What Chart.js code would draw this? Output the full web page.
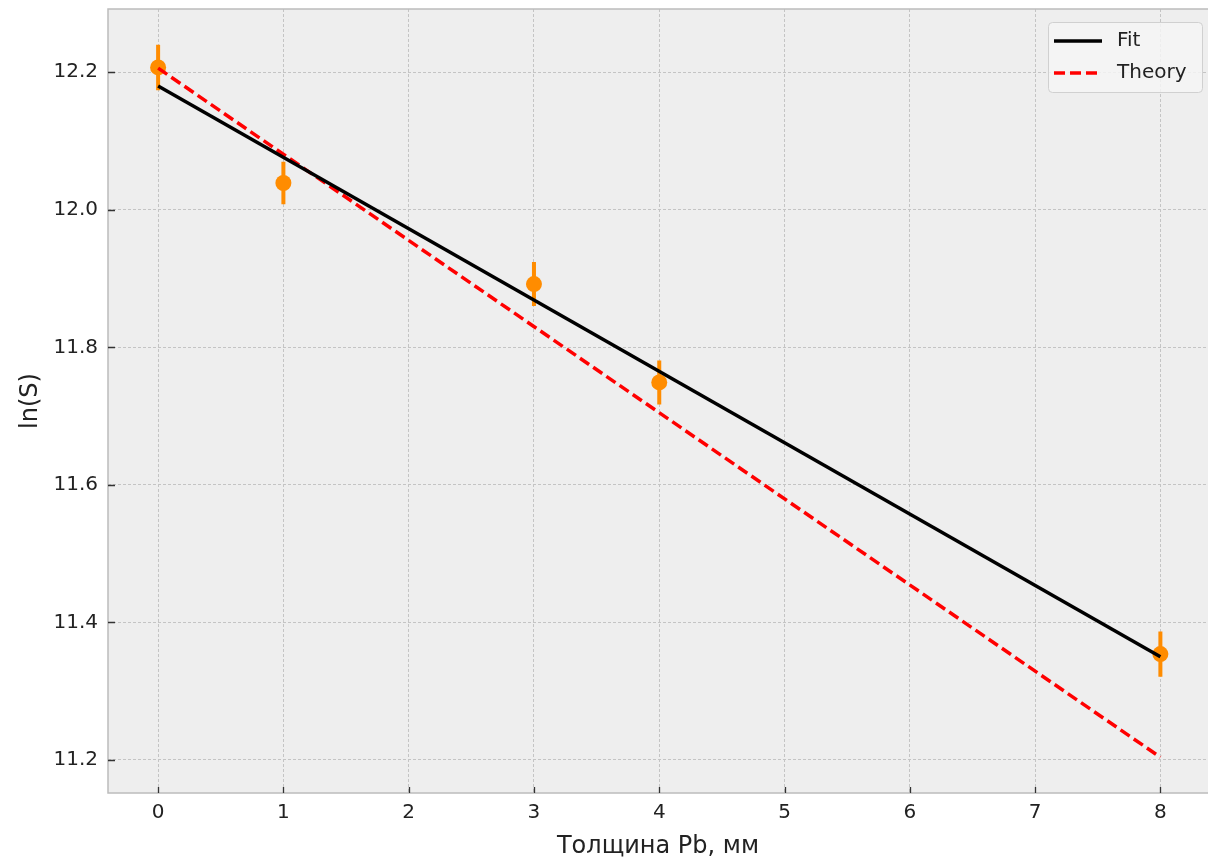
<!DOCTYPE html>
<html>
<head>
    <title>ln(S) от толщины Pb</title>
    <script src="https://cdn.jsdelivr.net/npm/chart.js"></script>
    <style>
        body { margin: 0; background: #ffffff; }
    </style>
</head>
<body>

    <canvas id="myChart" width="1208" height="861"></canvas>

    <script>
      // точки измерений
      const thickness = [0, 1, 3, 4, 8];
      const lnS = [12.207, 12.039, 11.892, 11.749, 11.354];
      const lnSErr = [0.033, 0.031, 0.032, 0.032, 0.033];
      // прямые
      const lineX = [0, 8];
      const fitY = [12.180, 11.350];
      const theoryY = [12.206, 11.204];
      // деления
      const xTicks = [0, 1, 2, 3, 4, 5, 6, 7, 8];
      const yTicks = [11.2, 11.4, 11.6, 11.8, 12.0, 12.2];

      const FONT = "'DejaVu Sans', sans-serif";
      const TEXT = '#222222';

      const errData = [];
      thickness.forEach((x, i) => {
          errData.push({x: x, y: lnS[i] - lnSErr[i]}, {x: x, y: lnS[i] + lnSErr[i]}, {x: x, y: null});
      });

      function noPad(s) {
          s.paddingLeft = 0; s.paddingRight = 0; s.paddingTop = 0; s.paddingBottom = 0;
      }

      const framePlugin = {
          id: 'frame',
          beforeDraw(chart) {
              const a = chart.chartArea, ctx = chart.ctx;
              ctx.save();
              ctx.fillStyle = '#eeeeee';
              ctx.fillRect(a.left, a.top, a.right - a.left, a.bottom - a.top);
              ctx.restore();
          },
          afterDraw(chart) {
              const a = chart.chartArea, ctx = chart.ctx;
              ctx.save();
              // рамка
              ctx.strokeStyle = '#bcbcbc';
              ctx.lineWidth = 1.5;
              ctx.strokeRect(a.left, a.top, a.right - a.left + 4, a.bottom - a.top);
              // деления внутрь
              ctx.strokeStyle = '#333333';
              ctx.lineWidth = 1.3;
              ctx.beginPath();
              chart.scales.x.ticks.forEach(t => {
                  const px = Math.round(chart.scales.x.getPixelForValue(t.value)) + 0.5;
                  ctx.moveTo(px, a.bottom);
                  ctx.lineTo(px, a.bottom - 6);
              });
              chart.scales.y.ticks.forEach(t => {
                  const py = Math.round(chart.scales.y.getPixelForValue(t.value)) + 0.5;
                  ctx.moveTo(a.left, py);
                  ctx.lineTo(a.left + 7, py);
              });
              ctx.stroke();

              // легенда
              const items = chart.data.datasets.filter(d => d.label);
              const bx = a.right - 160, by = a.top + 13, bw = 154, bh = 70;
              ctx.fillStyle = 'rgba(244,244,244,0.85)';
              ctx.strokeStyle = '#d0d0d0';
              ctx.lineWidth = 1;
              ctx.beginPath();
              ctx.roundRect(bx + 0.5, by + 0.5, bw, bh, 4);
              ctx.fill();
              ctx.stroke();
              ctx.font = '20px ' + FONT;
              ctx.textBaseline = 'middle';
              items.forEach((d, i) => {
                  const cy = by + 19 + i * 32;
                  ctx.strokeStyle = d.borderColor;
                  ctx.lineWidth = d.borderWidth;
                  ctx.setLineDash(d.borderDash || []);
                  ctx.beginPath();
                  ctx.moveTo(bx + 6, cy);
                  ctx.lineTo(bx + 54, cy);
                  ctx.stroke();
                  ctx.setLineDash([]);
                  ctx.fillStyle = TEXT;
                  ctx.fillText(d.label, bx + 69, cy);
              });
              ctx.restore();
          }
      };

      const config = {
          type: 'line',
          data: {
              datasets: [
                  {
                      label: 'Fit',
                      data: lineX.map((x, i) => ({x: x, y: fitY[i]})),
                      borderColor: '#000000',
                      borderWidth: 3.5,
                      pointRadius: 0,
                      order: 1
                  },
                  {
                      label: 'Theory',
                      data: lineX.map((x, i) => ({x: x, y: theoryY[i]})),
                      borderColor: '#ff0000',
                      borderWidth: 3.5,
                      borderDash: [11, 5],
                      pointRadius: 0,
                      order: 2
                  },
                  {
                      data: thickness.map((x, i) => ({x: x, y: lnS[i]})),
                      showLine: false,
                      pointRadius: 8,
                      pointBackgroundColor: '#ff8c00',
                      pointBorderWidth: 0,
                      borderColor: '#ff8c00',
                      order: 3
                  },
                  {
                      data: errData,
                      borderColor: '#ff8c00',
                      borderWidth: 4,
                      pointRadius: 0,
                      spanGaps: false,
                      order: 4
                  }
              ]
          },
          options: {
              responsive: false,
              animation: false,
              layout: { autoPadding: false, padding: { top: 9, left: 0, right: 0, bottom: 0 } },
              plugins: { legend: { display: false }, tooltip: { enabled: false } },
              scales: {
                  x: {
                      type: 'linear',
                      min: -0.4,
                      max: 8.38,
                      afterBuildTicks: s => { s.ticks = xTicks.map(v => ({value: v})); },
                      afterFit: s => { s.height = 68; noPad(s); },
                      ticks: { font: { family: FONT, size: 20 }, color: TEXT, padding: 8, callback: v => String(v) },
                      grid: { color: '#c4c4c4', lineWidth: 1, drawTicks: false },
                      border: { display: false, dash: [3, 2] },
                      title: { display: true, text: 'Толщина Pb, мм', font: { family: FONT, size: 24 }, color: TEXT, padding: { top: 2, bottom: 0 } }
                  },
                  y: {
                      type: 'linear',
                      min: 11.152,
                      max: 12.292,
                      afterBuildTicks: s => { s.ticks = yTicks.map(v => ({value: v})); },
                      afterFit: s => { s.width = 108; noPad(s); },
                      ticks: { font: { family: FONT, size: 20 }, color: TEXT, padding: 10, callback: v => v.toFixed(1) },
                      grid: { color: '#c4c4c4', lineWidth: 1, drawTicks: false },
                      border: { display: false, dash: [3, 2] },
                      title: { display: true, text: 'ln(S)', font: { family: FONT, size: 24 }, color: TEXT, padding: { top: 16, bottom: 2 } }
                  }
              }
          },
          plugins: [framePlugin]
      };

      const myChart = new Chart(document.getElementById('myChart'), config);
    </script>

</body>
</html>
